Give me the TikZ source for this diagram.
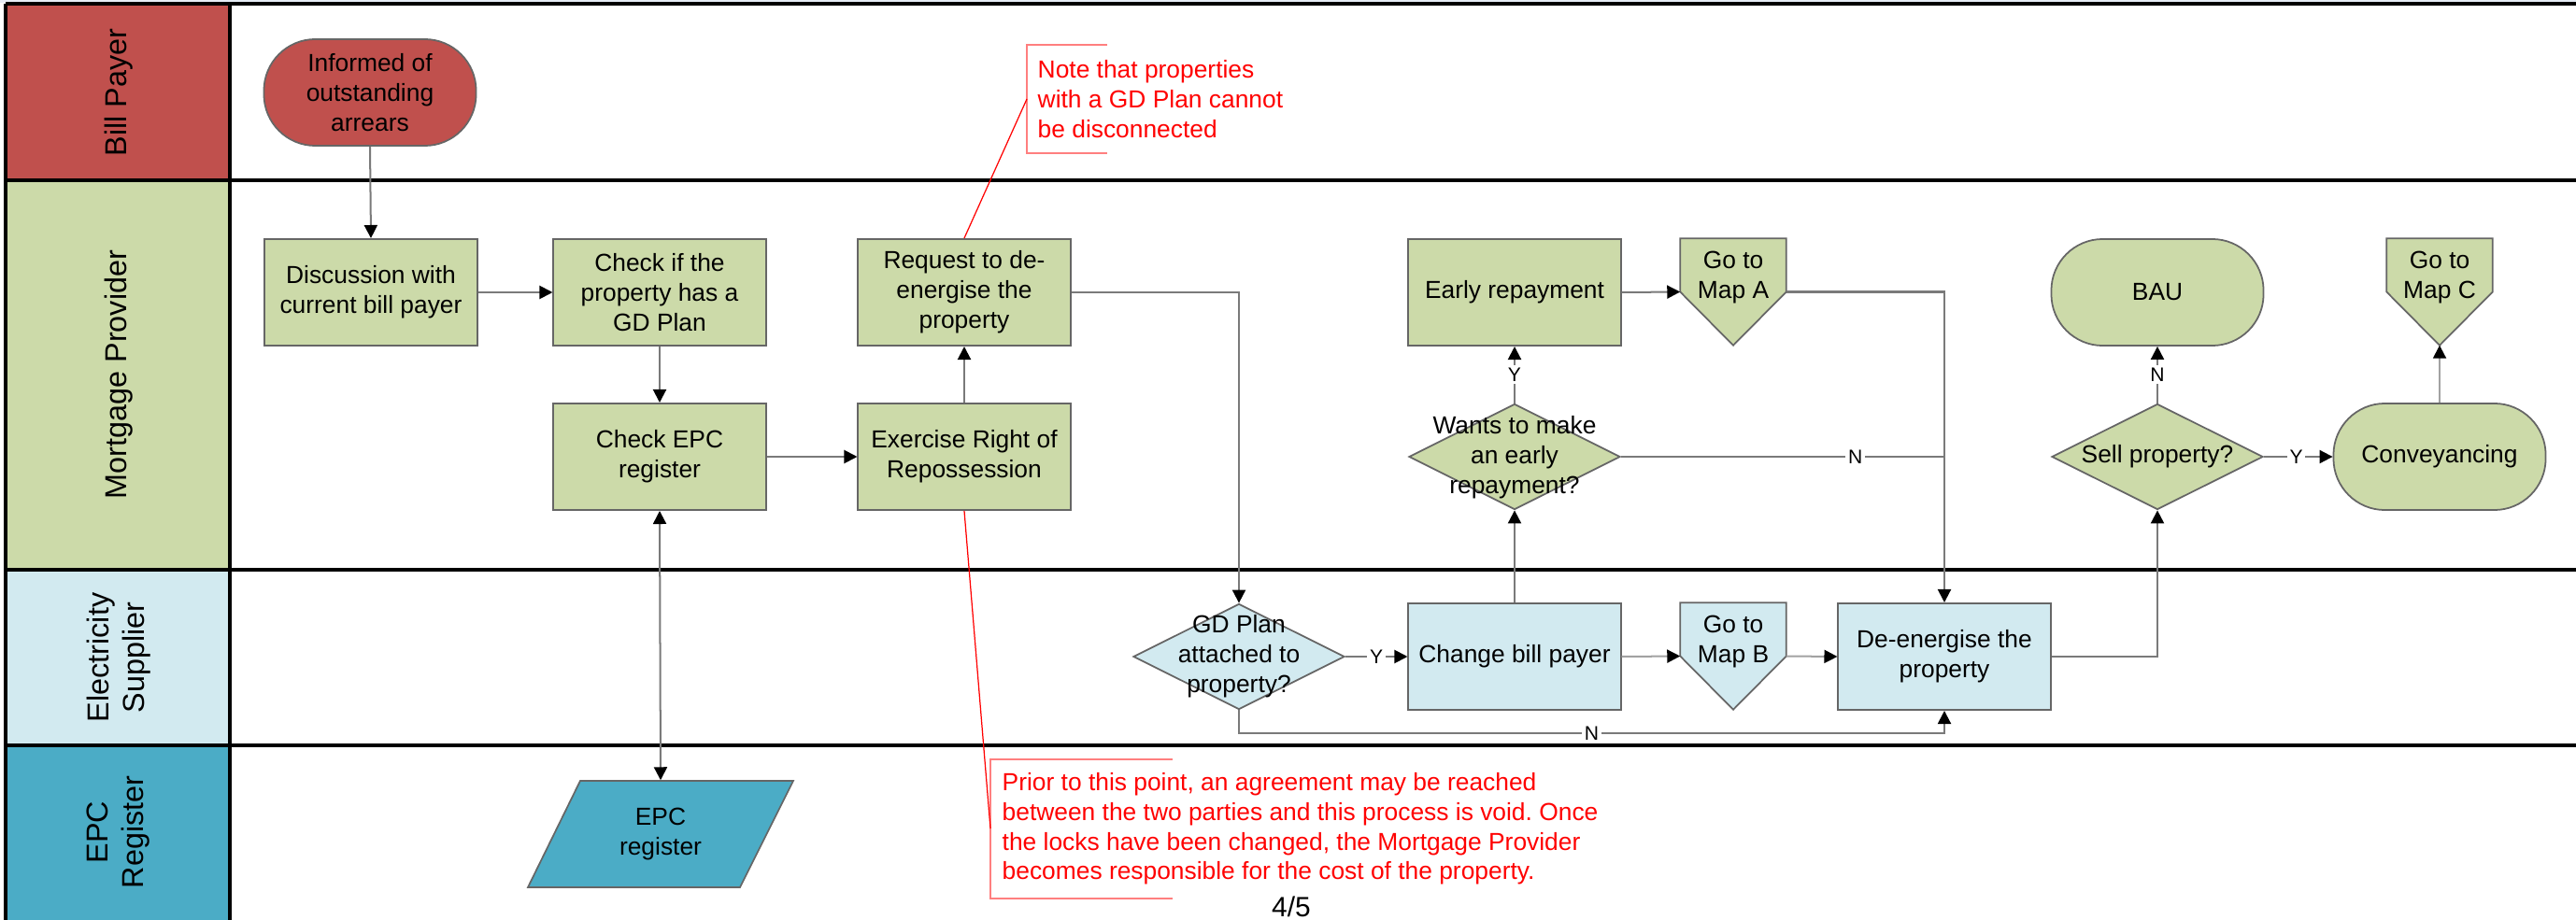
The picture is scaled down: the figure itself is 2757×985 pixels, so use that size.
\documentclass[tikz,border=0pt]{standalone}
\usepackage{fontspec}
\setmainfont{Liberation Sans}
\usetikzlibrary{shapes.geometric,arrows.meta,calc}
\definecolor{bpred}{HTML}{C0504D}
\definecolor{mpgreen}{HTML}{CCDAA9}
\definecolor{esblue}{HTML}{D2EAF0}
\definecolor{epcteal}{HTML}{4BACC6}
\definecolor{notered}{HTML}{FF0000}
\definecolor{notebr}{HTML}{FF7F7F}
\definecolor{connc}{HTML}{7A7A7A}
\definecolor{bordc}{HTML}{666666}
\definecolor{topband}{HTML}{E6ECF5}
\tikzset{
  lanehdr/.style={rotate=90, align=center, font=\fontsize{9.2}{10.8}\selectfont, inner sep=0pt},
  laneline/.style={draw=black, line width=0.9pt},
  txt/.style={align=center, font=\fontsize{7.5}{9.1}\selectfont, inner sep=0pt},
  procbox/.style={rectangle, draw=bordc, line width=0.55pt, minimum width=2.27cm, minimum height=1.14cm, align=center, font=\fontsize{7.5}{9.1}\selectfont, inner sep=0pt},
  termbox/.style={rectangle, rounded corners=0.55cm, draw=bordc, line width=0.5pt, minimum width=2.27cm, minimum height=1.14cm, align=center, font=\fontsize{7.5}{9.1}\selectfont, inner sep=0pt},
  decbox/.style={diamond, draw=bordc, line width=0.5pt, minimum width=2.26cm, minimum height=1.13cm, inner sep=0pt},
  offbox/.style={rectangle, draw=none, minimum width=1.12cm, minimum height=1.13cm, inner sep=0pt},
  conn/.style={draw=connc, line width=0.57pt, -{Triangle[length=0.14cm,width=0.14cm,color=black]}},
  plainconn/.style={draw=connc, line width=0.57pt},
  lbl/.style={fill=white, inner sep=0.8pt, font=\fontsize{6}{7}\selectfont},
  notetxt/.style={align=left, text=notered, font=\fontsize{7.5}{9}\selectfont, inner sep=0pt, anchor=west},
  notebracket/.style={draw=notebr, line width=0.6pt},
  noteline/.style={draw=notered, line width=0.35pt}
}
\frenchspacing
\begin{document}
\begin{tikzpicture}[x=0.01cm, y=-0.01cm]
\useasboundingbox (0,0) rectangle (2757,985);
% top band
\fill[topband] (0,0) rectangle (2757,3);
% lane headers
\fill[bpred] (6,4) rectangle (246,193);
\fill[mpgreen] (6,193) rectangle (246,610);
\fill[esblue] (6,610) rectangle (246,798);
\fill[epcteal] (6,798) rectangle (246,985);
\node[lanehdr] (hbp) at (127,99) {Bill Payer};
\node[lanehdr] (hmp) at (127,401) {Mortgage Provider};
\node[lanehdr] (hes) at (127,704) {Electricity\\Supplier};
\node[lanehdr] (hepc) at (127,891) {EPC\\Register};
% lane lines
\draw[laneline] (6,4) -- (2757,4);
\draw[laneline] (6,193) -- (2757,193);
\draw[laneline] (6,610) -- (2757,610);
\draw[laneline] (6,798) -- (2757,798);
\draw[laneline] (6,4) -- (6,985);
\draw[laneline] (246,4) -- (246,985);

% nodes: Bill Payer
\node[termbox, fill=bpred] (inf) at (396,99) {Informed of\\outstanding\\arrears};
% Mortgage Provider
\node[procbox, fill=mpgreen] (disc) at (397,313) {Discussion with\\current bill payer};
\node[procbox, fill=mpgreen] (chkgd) at (706,313) {Check if the\\property has a\\GD Plan};
\node[procbox, fill=mpgreen] (chkepc) at (706,489) {Check EPC\\register};
\node[procbox, fill=mpgreen] (req) at (1032,313) {Request to de-\\energise the\\property};
\node[procbox, fill=mpgreen] (exer) at (1032,489) {Exercise Right of\\Repossession};
\node[procbox, fill=mpgreen] (early) at (1621,313) {Early repayment};
\node[decbox, fill=mpgreen] (wants) at (1621,489) {};
\node[txt] (wantst) at (1621,490) {Wants to make\\an early\\repayment?};
\node[termbox, fill=mpgreen] (bau) at (2309,313) {BAU};
\node[decbox, fill=mpgreen] (sell) at (2309,489) {};
\node[txt] (sellt) at (2309,489) {Sell property?};
\node[termbox, fill=mpgreen] (conv) at (2611,489) {Conveyancing};
% off-page connectors
\node[offbox] (mapA) at (1855,312.5) {};
\draw[draw=bordc, line width=0.5pt, fill=mpgreen] (mapA.north west) -- (mapA.north east) -- (mapA.east) -- (mapA.south) -- (mapA.west) -- cycle;
\node[txt] (mapAt) at (1855,297) {Go to\\Map A};
\node[offbox] (mapC) at (2611,312.5) {};
\draw[draw=bordc, line width=0.5pt, fill=mpgreen] (mapC.north west) -- (mapC.north east) -- (mapC.east) -- (mapC.south) -- (mapC.west) -- cycle;
\node[txt] (mapCt) at (2611,297) {Go to\\Map C};
\node[offbox] (mapB) at (1855,702.5) {};
\draw[draw=bordc, line width=0.5pt, fill=esblue] (mapB.north west) -- (mapB.north east) -- (mapB.east) -- (mapB.south) -- (mapB.west) -- cycle;
\node[txt] (mapBt) at (1855,687) {Go to\\Map B};
% Electricity Supplier
\node[decbox, fill=esblue] (gd) at (1326,703) {};
\node[txt] (gdt) at (1326,703) {GD Plan\\attached to\\property?};
\node[procbox, fill=esblue] (change) at (1621,703) {Change bill payer};
\node[procbox, fill=esblue] (de) at (2081,703) {De-energise the\\property};
% EPC register
\draw[draw=bordc, line width=0.5pt, fill=epcteal] (621,836) -- (849,836) -- (792,950) -- (565,950) -- cycle;
\node[txt, minimum width=2.84cm, minimum height=1.14cm] (epc) at (707,893) {EPC\\register};

% connectors
\draw[conn] (inf.south) -- (disc.north);
\draw[conn] (disc.east) -- (chkgd.west);
\draw[conn] (chkgd.south) -- (chkepc.north);
\draw[conn] (chkepc.east) -- (exer.west);
\draw[conn] (exer.north) -- (req.south);
\draw[conn] (req.east) -| (gd.north);
\draw[draw=connc, line width=0.57pt, {Triangle[length=0.14cm,width=0.14cm,color=black]}-{Triangle[length=0.14cm,width=0.14cm,color=black]}] (chkepc.south) -- (epc.north);
\draw[conn] (gd.east) -- node[lbl] {Y} (change.west);
\draw[conn] (gd.south) |- node[lbl, pos=0.75] {N} ($(de.south)+(0,24)$) -- (de.south);
\draw[conn] (change.north) -- (wants.south);
\draw[conn] (wants.north) -- node[lbl] {Y} (early.south);
\draw[conn] (early.east) -- (mapA.west);
\draw[conn] (mapA.east) -| (de.north);
\draw[plainconn] (wants.east) -- node[lbl, pos=0.725] {N} (wants.east -| de.north);
\draw[conn, draw=connc!70] (change.east) -- (mapB.west);
\draw[conn, draw=connc!70] (mapB.east) -- (de.west);
\draw[conn] (de.east) -| (sell.south);
\draw[conn] (sell.north) -- node[lbl] {N} (bau.south);
\draw[conn] (sell.east) -- node[lbl, pos=0.47] {Y} (conv.west);
\draw[conn, draw=connc!70] (conv.north) -- (mapC.south);

% notes
\draw[notebracket] (1185,48) -- (1099,48) -- (1099,164) -- (1185,164);
\coordinate (nb1) at (1099,106);
\node[notetxt] (note1) at (1110,106) {Note that properties\\with a GD Plan cannot\\be disconnected};
\draw[noteline] (nb1) -- (req.north);
\draw[notebracket] (1255,813) -- (1060,813) -- (1060,962) -- (1255,962);
\coordinate (nb2) at (1060,887);
\node[notetxt] (note2) at (1072,887.5) {Prior to this point, an agreement may be reached\\between the two parties and this process is void. Once\\the locks have been changed, the Mortgage Provider\\becomes responsible for the cost of the property.};
\draw[noteline] (exer.south) -- (nb2);
% page number
\node[font=\fontsize{8.5}{10}\selectfont, inner sep=0pt] (pg) at (1382,971) {4/5};
\end{tikzpicture}
\end{document}
